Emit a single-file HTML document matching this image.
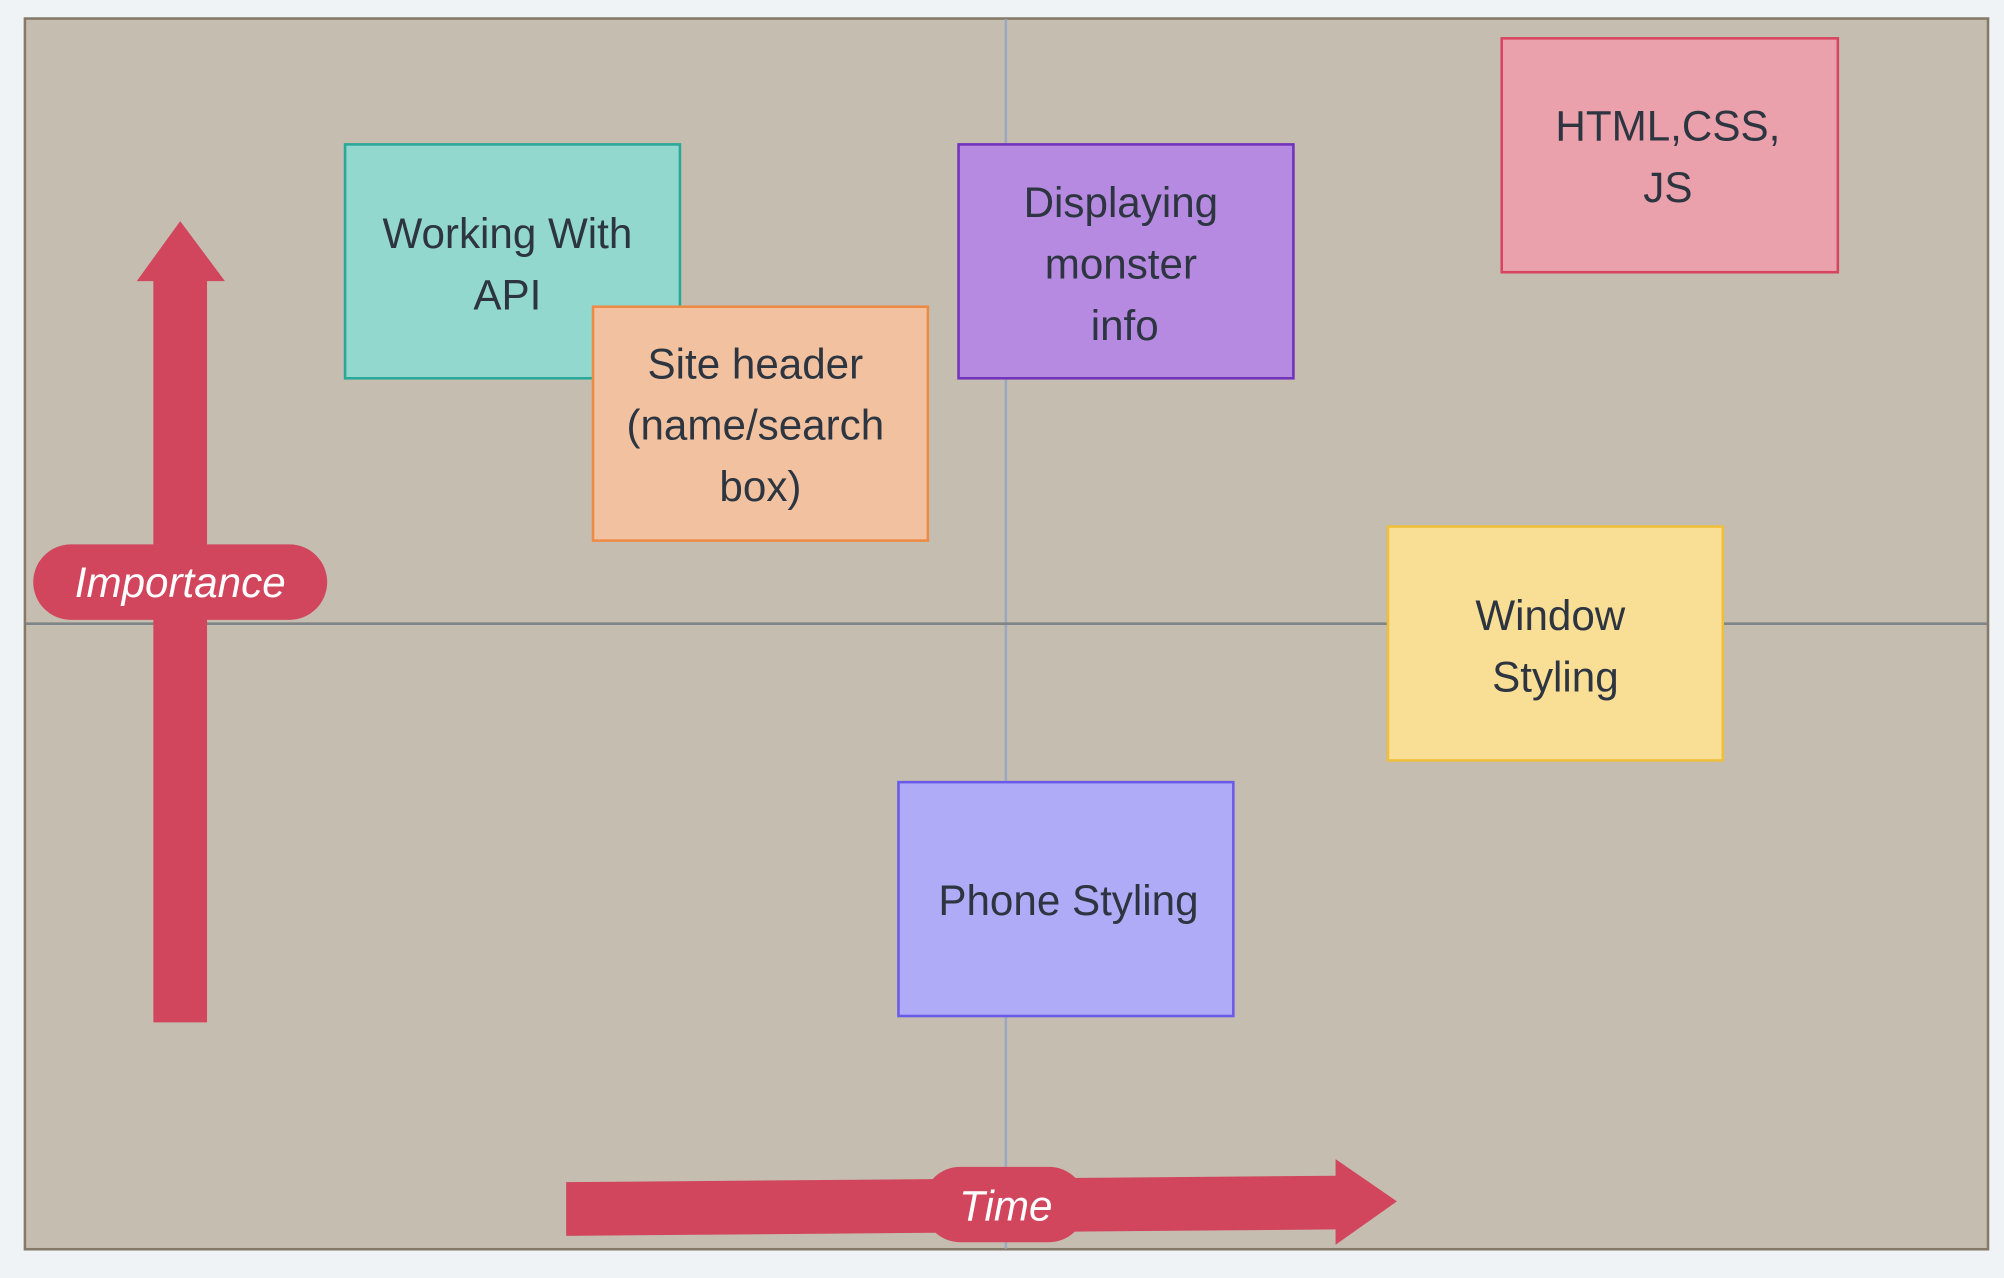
<!DOCTYPE html>
<html><head><style>
html,body{margin:0;padding:0;background:#f0f3f6;width:2004px;height:1278px;overflow:hidden}
svg{display:block}
text{font-family:"Liberation Sans",sans-serif;fill:#2d3540;font-size:33px}
.w{fill:#fff;font-style:italic}
</style></head><body>
<svg width="2004" height="1278" viewBox="0 0 1568 1000" preserveAspectRatio="none">
<rect x="0" y="0" width="1568" height="1000" fill="#f0f3f6"/>
<rect x="19.5" y="14.5" width="1536" height="963" fill="#c5bdb0" stroke="#857a68" stroke-width="2"/>
<line x1="787" y1="15" x2="787" y2="977" stroke="#9aa9bf" stroke-width="2"/>
<line x1="20" y1="488" x2="1555" y2="488" stroke="#7f8587" stroke-width="2"/>

<rect x="270" y="113" width="262" height="183" fill="#93d8cf" stroke="#2aa898" stroke-width="2"/>
<text x="397" y="194" text-anchor="middle">Working With</text>
<text x="397" y="242" text-anchor="middle">API</text>

<rect x="464" y="240" width="262" height="183" fill="#f2c2a0" stroke="#ed8a45" stroke-width="2"/>
<text x="591" y="296" text-anchor="middle">Site header</text>
<text x="591" y="344" text-anchor="middle">(name/search</text>
<text x="595" y="392" text-anchor="middle">box)</text>

<rect x="750" y="113" width="262" height="183" fill="#b68ae0" stroke="#7232bb" stroke-width="2"/>
<text x="877" y="170" text-anchor="middle">Displaying</text>
<text x="877" y="218" text-anchor="middle">monster</text>
<text x="880" y="266" text-anchor="middle">info</text>

<rect x="1175" y="30" width="263" height="183" fill="#eaa1ab" stroke="#d84560" stroke-width="2"/>
<text x="1305" y="110" text-anchor="middle">HTML,CSS,</text>
<text x="1305" y="158" text-anchor="middle">JS</text>

<rect x="1086" y="412" width="262" height="183" fill="#f9de96" stroke="#f0bf3a" stroke-width="2"/>
<text x="1213" y="493" text-anchor="middle">Window</text>
<text x="1217" y="541" text-anchor="middle">Styling</text>

<rect x="703" y="612" width="262" height="183" fill="#b0abf7" stroke="#6a5ae8" stroke-width="2"/>
<text x="836" y="716" text-anchor="middle">Phone Styling</text>

<polygon points="120,800 162,800 162,220 176,220 141,173 107,220 120,220" fill="#d1465c"/>
<rect x="26" y="426" width="230" height="59" rx="29.5" fill="#d1465c"/>
<text class="w" x="141" y="467" text-anchor="middle">Importance</text>

<polygon points="443,925 1045,920 1045,907 1093,940 1045,974 1045,962 443,967" fill="#d1465c"/>
<rect x="722" y="913" width="128" height="59" rx="29.5" fill="#d1465c"/>
<text class="w" x="787" y="955" text-anchor="middle">Time</text>
</svg>
</body></html>
